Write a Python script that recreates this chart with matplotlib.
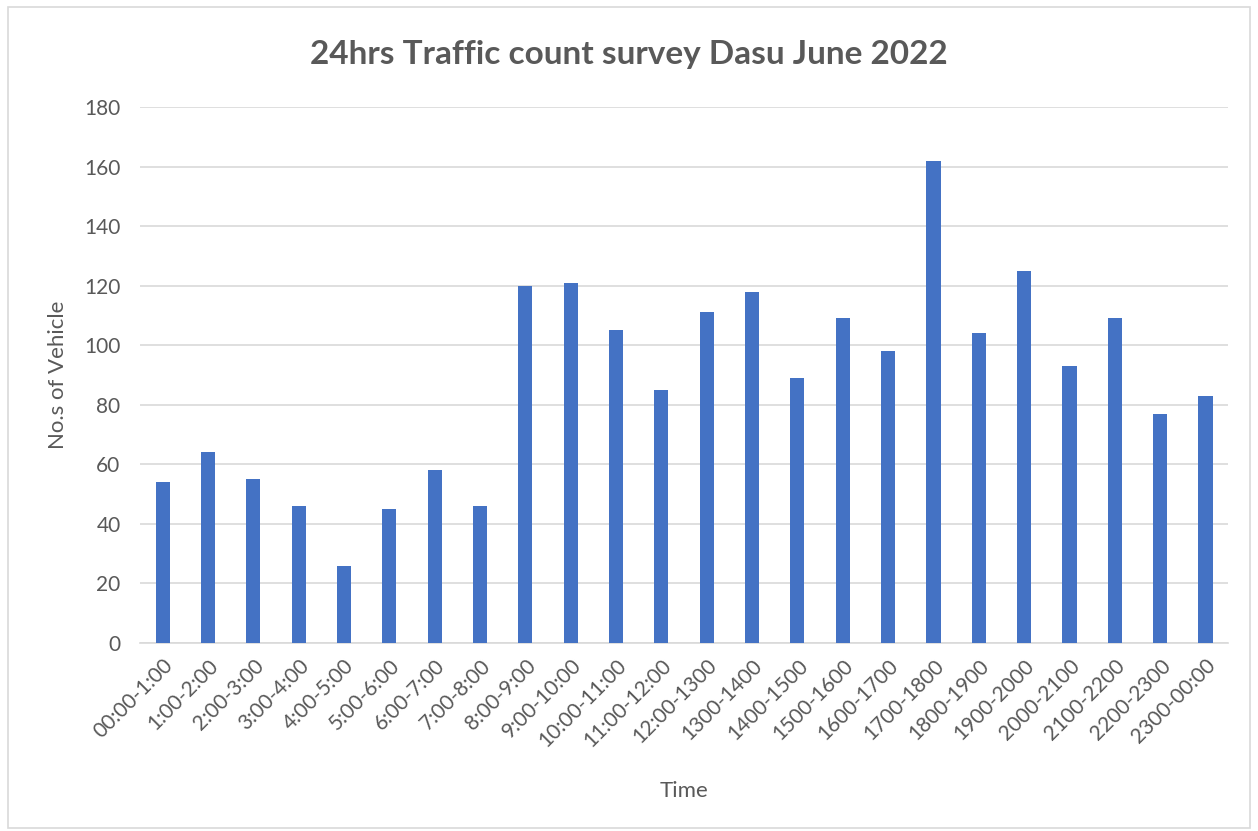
import matplotlib.pyplot as plt
from matplotlib.patches import Rectangle

plt.rcParams['font.family'] = ['Lato', 'DejaVu Sans']

# hourly vehicle counts
periods = ['00:00-1:00', '1:00-2:00', '2:00-3:00', '3:00-4:00', '4:00-5:00', '5:00-6:00',
           '6:00-7:00', '7:00-8:00', '8:00-9:00', '9:00-10:00', '10:00-11:00', '11:00-12:00',
           '12:00-1300', '1300-1400', '1400-1500', '1500-1600', '1600-1700', '1700-1800',
           '1800-1900', '1900-2000', '2000-2100', '2100-2200', '2200-2300', '2300-00:00']
vehicles = [54, 64, 55, 46, 26, 45, 58, 46, 120, 121, 105, 85,
            111, 118, 89, 109, 98, 162, 104, 125, 93, 109, 77, 83]
y_ticks = [0, 20, 40, 60, 80, 100, 120, 140, 160, 180]

text_col = '#595959'

fig = plt.figure(figsize=(12.58, 8.31), dpi=100)
ax = fig.add_axes([0.1113, 0.2262, 0.865, 0.645])

# chart border
fig.patches.append(Rectangle((0.006, 0.004), 0.988, 0.988, transform=fig.transFigure,
                             fill=False, edgecolor='#d9d9d9', linewidth=1.2))

x = range(len(periods))
ax.bar(x, vehicles, width=0.31, color='#4472C4', zorder=3)

ax.set_ylim(0, 180)
ax.set_yticks(y_ticks)
ax.set_xlim(-0.5, len(periods) - 0.5)
ax.set_xticks(list(x))
ax.set_xticklabels(periods, rotation=45, ha='right', rotation_mode='anchor')
ax.tick_params(axis='both', length=0, labelsize=15, colors=text_col)
ax.tick_params(axis='x', pad=9)
ax.tick_params(axis='y', pad=14)

ax.yaxis.grid(True, color='#d9d9d9', linewidth=1.2, zorder=0)
for s in ['top', 'right', 'left']:
    ax.spines[s].set_visible(False)
ax.spines['bottom'].set_color('#d9d9d9')
ax.spines['bottom'].set_linewidth(1.2)

ax.set_xlabel('Time', fontsize=16, color=text_col, labelpad=22)
ax.set_ylabel('No.s of Vehicle', fontsize=16, color=text_col, labelpad=12)
fig.text(0.5, 0.935, '24hrs Traffic count survey Dasu June 2022', ha='center', va='center',
         fontsize=24, fontweight='bold', color=text_col)

fig.savefig('out.png', dpi=100)
